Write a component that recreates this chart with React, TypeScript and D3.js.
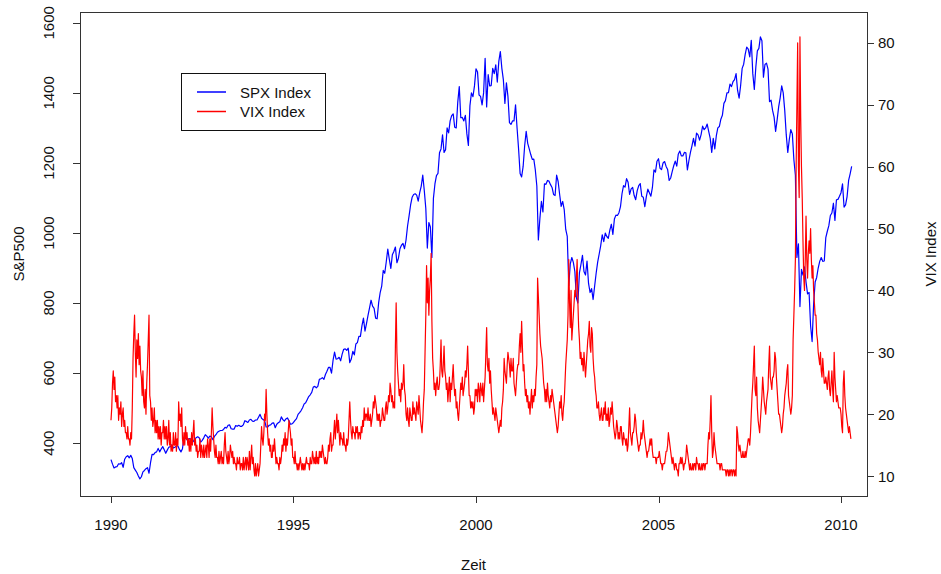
import React from "react";
import * as d3 from "d3";

// ---- data ----
const startYear = 1990;
const spxPerYear = 24; // two readings per month (start, middle)
const vixPerYear = 48; // four readings per month

const spxValues: number[] = [
  // 1990
  353,340, 329,332, 333,341, 340,344, 331,354, 361,364, 358,365, 356,330, 323,316, 306,298, 304,318, 322,327,
  // 1991
  330,314, 344,368, 367,373, 375,385, 375,383, 390,381, 371,380, 388,390, 395,386, 388,392, 392,382, 375,384,
  // 1992
  417,418, 409,412, 413,405, 404,412, 415,418, 415,403, 408,415, 424,420, 414,420, 418,410, 419,424, 431,434,
  // 1993
  436,436, 439,445, 443,451, 452,441, 440,440, 450,448, 451,448, 448,452, 464,462, 459,466, 468,463, 462,466,
  // 1994
  466,474, 482,471, 467,465, 446,446, 451,452, 457,458, 444,454, 458,461, 475,467, 463,469, 472,464, 454,455,
  // 1995
  459,465, 470,482, 487,493, 501,512, 515,524, 533,538, 545,560, 562,558, 562,582, 584,587, 582,596, 605,616,
  // 1996
  616,600, 636,660, 640,641, 645,635, 654,668, 669,665, 671,630, 640,662, 652,683, 687,705, 705,735, 757,720,
  // 1997
  741,765, 786,808, 791,785, 757,755, 801,830, 848,893, 885,918, 954,925, 899,938, 947,960, 915,928, 955,965,
  // 1998
  970,955, 980,1020, 1049,1080, 1102,1110, 1112,1108, 1091,1115, 1134,1165, 1121,1070, 957,1030, 1017,930, 1099,1140, 1164,1170,
  // 1999
  1229,1240, 1280,1230, 1238,1300, 1286,1320, 1335,1340, 1302,1300, 1373,1418, 1329,1330, 1320,1336, 1283,1250, 1363,1400, 1389,1420,
  // 2000
  1469,1460, 1394,1390, 1366,1400, 1499,1360, 1452,1420, 1421,1470, 1455,1480, 1431,1490, 1518,1470, 1437,1370, 1429,1390, 1315,1310,
  // 2001
  1320,1320, 1366,1300, 1240,1170, 1160,1190, 1249,1290, 1256,1240, 1224,1210, 1211,1180, 1134,980, 1041,1090, 1060,1140, 1139,1150,
  // 2002
  1148,1138, 1130,1110, 1107,1165, 1147,1110, 1076,1090, 1067,1010, 990,850, 912,930, 916,890, 815,800, 886,910, 936,890,
  // 2003
  880,920, 856,830, 841,810, 848,885, 917,940, 964,995, 975,1000, 990,985, 1008,1025, 996,1040, 1051,1050, 1058,1075,
  // 2004
  1112,1135, 1131,1155, 1145,1110, 1126,1130, 1107,1095, 1121,1135, 1141,1105, 1102,1075, 1104,1125, 1115,1105, 1130,1180, 1174,1205,
  // 2005
  1212,1185, 1181,1200, 1204,1190, 1181,1150, 1157,1175, 1192,1205, 1191,1225, 1234,1220, 1220,1230, 1229,1180, 1207,1230, 1249,1270,
  // 2006
  1248,1285, 1280,1265, 1281,1305, 1295,1300, 1311,1290, 1270,1230, 1270,1240, 1277,1300, 1304,1325, 1336,1370, 1378,1400, 1401,1425,
  // 2007
  1418,1432, 1438,1455, 1407,1385, 1421,1470, 1482,1510, 1531,1525, 1503,1550, 1455,1410, 1474,1520, 1527,1560, 1549,1445, 1481,1485,
  // 2008
  1468,1375, 1379,1350, 1331,1290, 1323,1360, 1386,1420, 1400,1350, 1280,1230, 1267,1295, 1283,1210, 1165,930, 969,790, 896,880,
  // 2009
  903,860, 826,830, 735,690, 798,860, 873,900, 919,930, 919,920, 987,1005, 1021,1050, 1057,1085, 1036,1095, 1096,1105,
  // 2010
  1115,1140, 1074,1080, 1104,1150, 1169,1190,
];

const vixValues: number[] = [
  // 1990
  19,21,25,27, 24,26,22,23, 21,23,19,21, 20,22,18,20, 21,18,19,17, 17,16,18,16,
  16,15,17,16, 21,29,33,36, 30,26,32,29, 33,28,31,27, 26,23,27,22, 21,24,20,25,
  // 1991
  28,32,36,23, 22,19,21,18, 19,21,17,19, 17,19,16,18, 16,18,15,17, 17,19,16,18,
  16,18,15,16, 19,15,17,14, 15,14,17,15, 15,17,14,16, 15,22,19,20, 18,21,16,15,
  // 1992
  17,15,18,16, 17,15,16,14, 16,14,17,15, 17,19,15,16, 14,15,13,14, 14,16,13,15,
  14,13,15,13, 14,15,13,16, 15,13,16,14, 17,21,18,16, 14,13,15,13, 13,12,14,12,
  // 1993
  13,14,12,13, 12,15,17,14, 13,12,14,12, 13,15,14,13, 14,12,13,12, 12,11,13,12,
  12,13,11,12, 12,11,13,11, 12,13,11,13, 12,11,14,11, 13,15,12,13, 11,10,12,10,
  // 1994
  11,12,10,11, 12,15,18,16, 15,17,20,19, 24,20,17,15, 16,14,15,13, 13,15,14,16,
  14,12,13,12, 12,11,13,12, 13,15,14,16, 15,17,14,16, 15,17,19,18, 17,15,16,13,
  // 1995
  13,12,14,12, 12,11,12,11, 12,13,12,11, 12,11,12,11, 12,13,12,12, 12,11,13,12,
  12,14,13,12, 13,12,14,12, 13,12,14,13, 14,13,15,14, 13,12,13,12, 12,13,15,14,
  // 1996
  16,17,14,15, 15,17,19,16, 18,20,17,19, 17,15,17,16, 16,15,17,15, 15,14,16,15,
  16,19,22,19, 17,16,18,17, 17,16,18,17, 18,16,17,17, 16,18,17,19, 18,21,19,20,
  // 1997
  20,19,21,19, 19,20,18,19, 20,22,21,23, 22,21,19,20, 19,20,18,19, 19,21,20,19,
  19,21,22,20, 21,23,22,25, 24,22,23,21, 22,21,31,38, 30,27,25,23, 24,22,25,24,
  // 1998
  25,28,24,23, 20,19,21,19, 18,21,20,19, 19,22,20,21, 20,19,22,21, 20,23,21,19,
  18,17,19,22, 24,30,36,44, 38,42,36,40, 42,46,35,29, 27,24,25,23, 25,26,24,24,
  // 1999
  25,28,32,27, 26,28,31,27, 26,24,25,22, 24,26,22,25, 24,26,28,25, 23,24,21,22,
  20,19,21,23, 25,24,26,23, 24,25,27,26, 28,31,27,23, 23,21,22,21, 22,20,21,24,
  // 2000
  23,24,22,25, 24,22,25,24, 23,25,22,24, 26,30,34,28, 27,29,25,27, 24,22,20,21,
  20,19,21,20, 19,18,17,18, 19,18,21,22, 24,29,27,26, 25,28,30,29, 28,26,29,27,
  // 2001
  27,29,25,24, 23,25,27,28, 28,31,33,30, 35,31,27,28, 25,23,24,22, 23,21,22,20,
  22,24,21,23, 22,24,23,26, 28,42,39,36, 33,31,30,29, 27,25,24,22, 24,22,25,23,
  // 2002
  22,21,23,22, 24,23,22,21, 20,19,18,17, 18,20,22,21, 23,20,19,21, 22,25,28,30,
  32,36,45,38, 34,40,32,34, 36,38,40,39, 42,45,38,34, 32,29,30,28, 29,27,30,28,
  // 2003
  26,28,30,32, 33,35,31,30, 34,33,29,27, 26,24,23,21, 21,22,20,19, 20,21,19,19,
  21,20,22,19, 20,19,21,18, 19,21,20,22, 20,18,17,16, 17,19,18,16, 17,16,18,18,
  // 2004
  16,15,17,16, 16,15,16,14, 15,18,21,17, 16,15,17,17, 18,20,19,17, 16,15,14,15,
  15,17,16,17, 19,17,16,15, 14,13,14,14, 15,16,15,16, 14,13,13,13, 13,12,13,13,
  // 2005
  13,14,13,12, 12,11,12,12, 12,13,14,14, 15,17,16,15, 14,13,12,13, 12,11,12,12,
  11,11,10,12, 12,13,12,13, 12,11,12,12, 13,15,14,13, 12,11,12,11, 11,12,11,12,
  // 2006
  12,11,13,12, 12,11,12,11, 11,12,11,12, 12,11,12,12, 12,15,17,16, 19,23,17,13,
  14,17,15,14, 13,12,12,12, 12,11,12,12, 11,11,11,11, 11,10,11,11, 10,11,10,11,
  // 2007
  11,10,11,11, 10,11,10,18, 17,15,14,15, 14,13,13,14, 13,13,14,13, 14,15,16,16,
  15,17,20,23, 25,28,31,24, 23,26,21,19, 18,17,19,21, 23,26,24,22, 21,20,22,23,
  // 2008
  24,28,31,26, 25,24,26,26, 27,30,29,26, 24,22,20,20, 19,18,17,18, 20,21,23,24,
  25,27,28,23, 22,21,20,21, 23,32,36,40, 45,60,70,80, 60,55,81,68, 60,55,48,42,
  // 2009
  40,45,52,45, 42,46,48,46, 50,45,42,44, 40,38,36,36, 33,32,30,29, 28,30,27,26,
  29,27,25,25, 26,25,24,26, 27,24,23,25, 27,24,22,30, 26,24,22,23, 22,21,21,21,
  // 2010
  20,18,17,25, 27,23,21,20, 19,18,17,18, 17,16,
];

const xTicks = [1990, 1995, 2000, 2005, 2010];
const spxTicks = [400, 600, 800, 1000, 1200, 1400, 1600];
const vixTicks = [10, 20, 30, 40, 50, 60, 70, 80];
const seriesNames = ["SPX Index", "VIX Index"];
const seriesColors = ["#0000FF", "#FF0000"];

const FONT = "'Liberation Sans', Arial, Helvetica, sans-serif";

export default function App() {
  const W = 941;
  const H = 574;
  const box = { l: 80, r: 867, t: 12, b: 496 };

  const x = d3.scaleLinear().domain([1989.151, 2010.712]).range([box.l, box.r]);
  const yL = d3.scaleLinear().domain([249, 1631]).range([box.b, box.t]);
  const yR = d3.scaleLinear().domain([6.77, 85]).range([box.b, box.t]);

  const spxLine = d3
    .line<number>()
    .x((_, i) => x(startYear + i / spxPerYear))
    .y((d) => yL(d));
  const vixLine = d3
    .line<number>()
    .x((_, i) => x(startYear + i / vixPerYear))
    .y((d) => yR(d));

  const tick = 7;
  const fs = 15;

  return (
    <svg
      width={W}
      height={H}
      style={{ position: "absolute", left: 0, top: 0, background: "#fff" }}
      fontFamily={FONT}
      fontSize={fs}
    >
      <rect x={0} y={0} width={W} height={H} fill="#fff" />
      <path d={spxLine(spxValues) || ""} fill="none" stroke={seriesColors[0]} strokeWidth={1.2} strokeLinejoin="round" />
      <path d={vixLine(vixValues) || ""} fill="none" stroke={seriesColors[1]} strokeWidth={1.2} strokeLinejoin="round" />

      {/* box */}
      <rect
        x={box.l + 0.5}
        y={box.t + 0.5}
        width={box.r - box.l}
        height={box.b - box.t}
        fill="none"
        stroke="#333"
        strokeWidth={1}
      />

      {/* bottom axis */}
      {xTicks.map((v) => (
        <g key={"x" + v}>
          <line x1={Math.round(x(v)) + 0.5} x2={Math.round(x(v)) + 0.5} y1={box.b} y2={box.b + tick} stroke="#333" />
          <text x={x(v)} y={530} textAnchor="middle" fill="#111">
            {v}
          </text>
        </g>
      ))}
      <text x={(box.l + box.r) / 2} y={570} textAnchor="middle" fill="#111">
        Zeit
      </text>

      {/* left axis */}
      {spxTicks.map((v) => (
        <g key={"l" + v}>
          <line x1={box.l - tick} x2={box.l} y1={Math.round(yL(v)) + 0.5} y2={Math.round(yL(v)) + 0.5} stroke="#333" />
          <text transform={`translate(54,${yL(v)}) rotate(-90)`} textAnchor="middle" fill="#111">
            {v}
          </text>
        </g>
      ))}
      <text transform={`translate(24,${(box.t + box.b) / 2}) rotate(-90)`} textAnchor="middle" fill="#111">
        S&amp;P500
      </text>

      {/* right axis */}
      {vixTicks.map((v) => (
        <g key={"r" + v}>
          <line x1={box.r} x2={box.r + tick} y1={Math.round(yR(v)) + 0.5} y2={Math.round(yR(v)) + 0.5} stroke="#333" />
          <text x={878} y={yR(v) + 5.5} textAnchor="start" fill="#111">
            {v}
          </text>
        </g>
      ))}
      <text transform={`translate(936,${(box.t + box.b) / 2}) rotate(-90)`} textAnchor="middle" fill="#111">
        VIX Index
      </text>

      {/* legend */}
      <rect x={181.5} y={73.5} width={144} height={57} fill="#fff" stroke="#111" strokeWidth={1} />
      {seriesNames.map((name, i) => (
        <g key={name}>
          <line x1={197} x2={226} y1={92 + i * 19.5} y2={92 + i * 19.5} stroke={seriesColors[i]} strokeWidth={1.5} />
          <text x={240} y={97.5 + i * 19.5} fill="#111">
            {name}
          </text>
        </g>
      ))}
    </svg>
  );
}
